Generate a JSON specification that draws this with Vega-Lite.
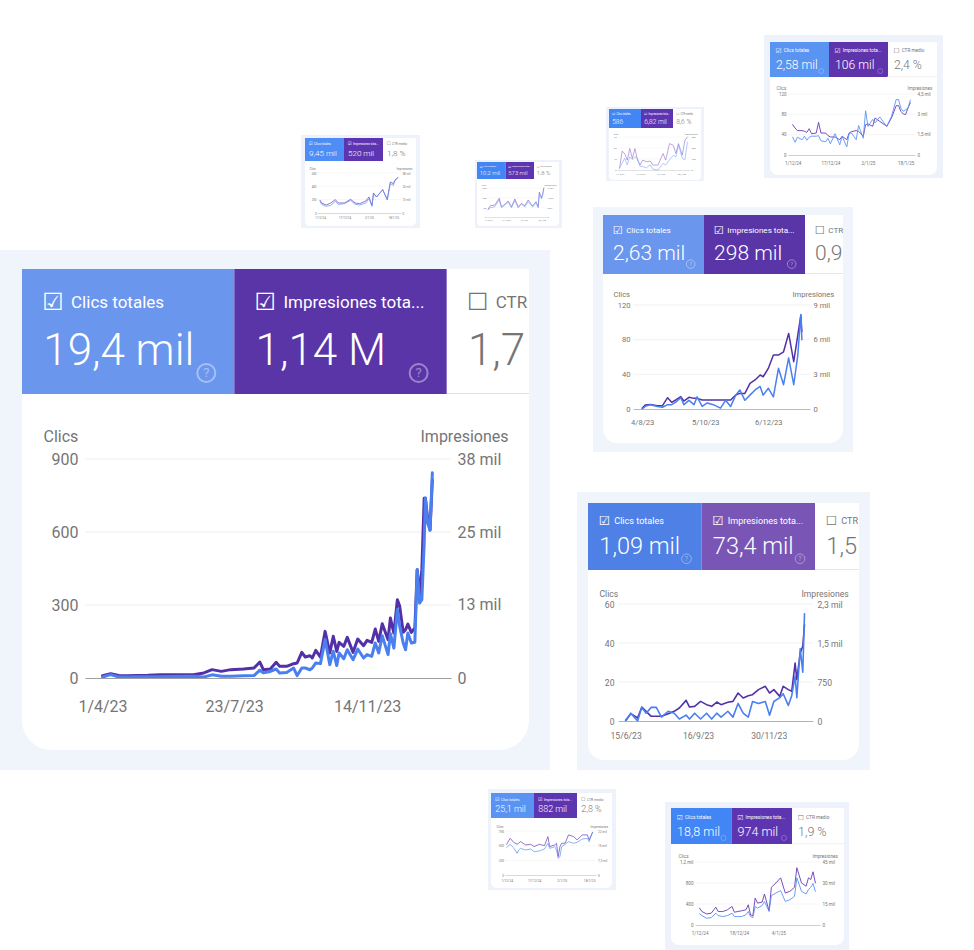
{"$schema":"https://vega.github.io/schema/vega-lite/v6.json","width":974,"height":950,"padding":0,"autosize":{"type":"none"},"background":"white",
"config":{"view":{"stroke":null},"axis":{"labelFont":"Roboto","titleFont":"Roboto","labelColor":"#757575","titleColor":"#757575","titleFontWeight":"normal","ticks":false,"domain":false,"grid":false,"labelOverlap":false,"labelFlush":false,"titleAngle":0,"titleAlign":"left","titleBaseline":"middle"},"axisX":{"domain":true,"domainColor":"#9e9e9e","labelBaseline":"top","title":null},"line":{"strokeJoin":"round","strokeCap":"round"}},
"datasets":{
"hA":[{"p":"A","m":"c","label":"Clics totales","value":"19,4 mil","b":"☑"},{"p":"A","m":"i","label":"Impresiones tota...","value":"1,14 M","b":"☑"},{"p":"A","m":"t","label":"CTR","value":"1,7","b":"☐"}],
"hB":[{"p":"B","m":"c","label":"Clics totales","value":"2,63 mil","b":"☑"},{"p":"B","m":"i","label":"Impresiones tota...","value":"298 mil","b":"☑"},{"p":"B","m":"t","label":"CTR","value":"0,9","b":"☐"}],
"hC":[{"p":"C","m":"c","label":"Clics totales","value":"1,09 mil","b":"☑"},{"p":"C","m":"i","label":"Impresiones tota...","value":"73,4 mil","b":"☑"},{"p":"C","m":"t","label":"CTR","value":"1,5","b":"☐"}],
"hD":[{"p":"D","m":"c","label":"Clics totales","value":"2,58 mil","b":"☑"},{"p":"D","m":"i","label":"Impresiones tota...","value":"106 mil","b":"☑"},{"p":"D","m":"t","label":"CTR medio","value":"2,4 %","b":"☐"}],
"hE":[{"p":"E","m":"c","label":"Clics totales","value":"9,45 mil","b":"☑"},{"p":"E","m":"i","label":"Impresiones tota...","value":"520 mil","b":"☑"},{"p":"E","m":"t","label":"CTR medio","value":"1,8 %","b":"☐"}],
"hF":[{"p":"F","m":"c","label":"Clics totales","value":"10,2 mil","b":"☑"},{"p":"F","m":"i","label":"Impresiones tota...","value":"573 mil","b":"☑"},{"p":"F","m":"t","label":"CTR medio","value":"1,8 %","b":"☐"}],
"hG":[{"p":"G","m":"c","label":"Clics totales","value":"586","b":"☑"},{"p":"G","m":"i","label":"Impresiones tota...","value":"6,82 mil","b":"☑"},{"p":"G","m":"t","label":"CTR medio","value":"8,6 %","b":"☐"}],
"hH":[{"p":"H","m":"c","label":"Clics totales","value":"25,1 mil","b":"☑"},{"p":"H","m":"i","label":"Impresiones tota...","value":"882 mil","b":"☑"},{"p":"H","m":"t","label":"CTR medio","value":"2,8 %","b":"☐"}],
"hI":[{"p":"I","m":"c","label":"Clics totales","value":"18,8 mil","b":"☑"},{"p":"I","m":"i","label":"Impresiones tota...","value":"974 mil","b":"☑"},{"p":"I","m":"t","label":"CTR medio","value":"1,9 %","b":"☐"}],
"A":[{"d":"2023-04-01","c":4,"i":400},{"d":"2023-04-08","c":14,"i":750},{"d":"2023-04-15","c":4,"i":420},{"d":"2023-04-22","c":4,"i":380},{"d":"2023-05-01","c":5,"i":420},{"d":"2023-05-10","c":5,"i":460},{"d":"2023-05-21","c":5,"i":580},{"d":"2023-06-01","c":6,"i":570},{"d":"2023-06-18","c":7,"i":580},{"d":"2023-06-27","c":4,"i":870},{"d":"2023-07-04","c":13,"i":1450},{"d":"2023-07-12","c":7,"i":1150},{"d":"2023-07-20","c":7,"i":1450},{"d":"2023-07-31","c":9,"i":1560},{"d":"2023-08-09","c":10,"i":1730},{"d":"2023-08-14","c":32,"i":2770},{"d":"2023-08-17","c":21,"i":1450},{"d":"2023-08-23","c":27,"i":1560},{"d":"2023-08-28","c":37,"i":2720},{"d":"2023-08-31","c":21,"i":2020},{"d":"2023-09-06","c":23,"i":2020},{"d":"2023-09-12","c":41,"i":2490},{"d":"2023-09-15","c":10,"i":2600},{"d":"2023-09-19","c":41,"i":4450},{"d":"2023-09-22","c":41,"i":3640},{"d":"2023-09-26","c":34,"i":3870},{"d":"2023-09-28","c":41,"i":3470},{"d":"2023-10-01","c":62,"i":4800},{"d":"2023-10-05","c":59,"i":3640},{"d":"2023-10-09","c":158,"i":8090},{"d":"2023-10-13","c":55,"i":4340},{"d":"2023-10-16","c":110,"i":7230},{"d":"2023-10-19","c":51,"i":4620},{"d":"2023-10-21","c":103,"i":6180},{"d":"2023-10-25","c":79,"i":5490},{"d":"2023-10-28","c":116,"i":7050},{"d":"2023-11-02","c":75,"i":4450},{"d":"2023-11-06","c":119,"i":6760},{"d":"2023-11-11","c":82,"i":5610},{"d":"2023-11-14","c":96,"i":6530},{"d":"2023-11-18","c":89,"i":6180},{"d":"2023-11-21","c":144,"i":8500},{"d":"2023-11-24","c":103,"i":6360},{"d":"2023-11-27","c":174,"i":9420},{"d":"2023-12-02","c":96,"i":6650},{"d":"2023-12-04","c":182,"i":10400},{"d":"2023-12-07","c":123,"i":7800},{"d":"2023-12-10","c":281,"i":13580},{"d":"2023-12-12","c":212,"i":12430},{"d":"2023-12-15","c":144,"i":7920},{"d":"2023-12-17","c":116,"i":8380},{"d":"2023-12-19","c":185,"i":9360},{"d":"2023-12-22","c":144,"i":7920},{"d":"2023-12-25","c":147,"i":8670},{"d":"2023-12-27","c":445,"i":18800},{"d":"2023-12-29","c":308,"i":14450},{"d":"2023-12-31","c":322,"i":18800},{"d":"2024-01-02","c":555,"i":31200},{"d":"2024-01-03","c":740,"i":31200},{"d":"2024-01-05","c":637,"i":27700},{"d":"2024-01-07","c":607,"i":25700},{"d":"2024-01-09","c":843,"i":34400}],
"B":[{"d":"2023-08-04","c":0,"i":60},{"d":"2023-08-07","c":3,"i":350},{"d":"2023-08-12","c":5,"i":400},{"d":"2023-08-19","c":3,"i":290},{"d":"2023-08-24","c":2,"i":290},{"d":"2023-08-29","c":5,"i":980},{"d":"2023-09-02","c":5,"i":580},{"d":"2023-09-06","c":8,"i":780},{"d":"2023-09-11","c":13,"i":1070},{"d":"2023-09-14","c":5,"i":690},{"d":"2023-09-19","c":10,"i":1010},{"d":"2023-09-24","c":5,"i":920},{"d":"2023-09-27","c":14,"i":920},{"d":"2023-10-02","c":3,"i":780},{"d":"2023-10-07","c":7,"i":780},{"d":"2023-10-13","c":5,"i":780},{"d":"2023-10-20","c":1,"i":780},{"d":"2023-10-25","c":10,"i":780},{"d":"2023-10-30","c":3,"i":780},{"d":"2023-11-04","c":16,"i":1210},{"d":"2023-11-08","c":22,"i":1350},{"d":"2023-11-13","c":10,"i":1350},{"d":"2023-11-18","c":16,"i":2220},{"d":"2023-11-23","c":22,"i":2510},{"d":"2023-11-28","c":26,"i":2940},{"d":"2023-12-01","c":16,"i":2790},{"d":"2023-12-06","c":24,"i":3510},{"d":"2023-12-11","c":14,"i":4670},{"d":"2023-12-16","c":47,"i":4670},{"d":"2023-12-21","c":28,"i":4950},{"d":"2023-12-26","c":59,"i":6540},{"d":"2023-12-31","c":28,"i":4090},{"d":"2024-01-04","c":62,"i":6390},{"d":"2024-01-07","c":109,"i":8120},{"d":"2024-01-08","c":80,"i":6680}],
"C":[{"d":"2023-06-15","c":0,"i":13},{"d":"2023-06-21","c":4,"i":141},{"d":"2023-06-29","c":0,"i":58},{"d":"2023-07-04","c":7,"i":269},{"d":"2023-07-09","c":4,"i":186},{"d":"2023-07-15","c":7,"i":90},{"d":"2023-07-21","c":7,"i":90},{"d":"2023-07-27","c":2,"i":90},{"d":"2023-08-04","c":5,"i":141},{"d":"2023-08-11","c":4,"i":186},{"d":"2023-08-17","c":1,"i":250},{"d":"2023-08-25","c":3,"i":397},{"d":"2023-08-29","c":1,"i":269},{"d":"2023-09-04","c":4,"i":282},{"d":"2023-09-11","c":1,"i":378},{"d":"2023-09-18","c":4,"i":314},{"d":"2023-09-24","c":1,"i":282},{"d":"2023-09-30","c":4,"i":365},{"d":"2023-10-05","c":2,"i":314},{"d":"2023-10-13","c":5,"i":359},{"d":"2023-10-19","c":2,"i":378},{"d":"2023-10-25","c":9,"i":538},{"d":"2023-10-31","c":4,"i":442},{"d":"2023-11-06","c":2,"i":487},{"d":"2023-11-11","c":10,"i":506},{"d":"2023-11-18","c":9,"i":603},{"d":"2023-11-26","c":10,"i":667},{"d":"2023-12-01","c":3,"i":538},{"d":"2023-12-06","c":10,"i":603},{"d":"2023-12-13","c":12,"i":474},{"d":"2023-12-17","c":14,"i":667},{"d":"2023-12-23","c":8,"i":603},{"d":"2023-12-27","c":13,"i":571},{"d":"2023-12-31","c":23,"i":1115},{"d":"2024-01-02","c":12,"i":795},{"d":"2024-01-06","c":37,"i":1308},{"d":"2024-01-09","c":25,"i":1436},{"d":"2024-01-11","c":55,"i":1852}],
"D":[{"d":"2024-12-01","c":35,"i":2240},{"d":"2024-12-02","c":25,"i":1990},{"d":"2024-12-03","c":35,"i":1800},{"d":"2024-12-05","c":30,"i":1800},{"d":"2024-12-06","c":37,"i":1750},{"d":"2024-12-07","c":29,"i":1670},{"d":"2024-12-08","c":35,"i":1940},{"d":"2024-12-09","c":37,"i":1570},{"d":"2024-12-11","c":37,"i":1620},{"d":"2024-12-12","c":38,"i":2410},{"d":"2024-12-13","c":28,"i":1620},{"d":"2024-12-15","c":26,"i":1620},{"d":"2024-12-16","c":33,"i":1430},{"d":"2024-12-17","c":22,"i":1330},{"d":"2024-12-19","c":42,"i":1330},{"d":"2024-12-21","c":20,"i":1130},{"d":"2024-12-22","c":37,"i":1380},{"d":"2024-12-24","c":16,"i":1130},{"d":"2024-12-25","c":43,"i":1620},{"d":"2024-12-26","c":43,"i":1720},{"d":"2024-12-28","c":30,"i":1800},{"d":"2024-12-29","c":58,"i":1750},{"d":"2024-12-31","c":33,"i":1380},{"d":"2025-01-01","c":87,"i":2240},{"d":"2025-01-02","c":56,"i":2290},{"d":"2025-01-04","c":70,"i":2120},{"d":"2025-01-05","c":63,"i":2730},{"d":"2025-01-07","c":75,"i":2480},{"d":"2025-01-10","c":56,"i":2120},{"d":"2025-01-12","c":76,"i":2730},{"d":"2025-01-14","c":109,"i":3640},{"d":"2025-01-15","c":109,"i":3640},{"d":"2025-01-16","c":92,"i":3220},{"d":"2025-01-17","c":86,"i":3030},{"d":"2025-01-18","c":89,"i":2980},{"d":"2025-01-19","c":92,"i":3470},{"d":"2025-01-20","c":108,"i":3840}],
"E":[{"d":"2024-12-01","c":180,"i":12050},{"d":"2024-12-02","c":130,"i":9510},{"d":"2024-12-05","c":100,"i":7610},{"d":"2024-12-08","c":115,"i":9510},{"d":"2024-12-11","c":175,"i":12680},{"d":"2024-12-13","c":130,"i":9510},{"d":"2024-12-17","c":140,"i":9510},{"d":"2024-12-21","c":190,"i":13000},{"d":"2024-12-24","c":130,"i":9510},{"d":"2024-12-27","c":120,"i":8880},{"d":"2024-12-31","c":150,"i":11410},{"d":"2025-01-02","c":215,"i":15220},{"d":"2025-01-04","c":100,"i":7290},{"d":"2025-01-05","c":290,"i":19020},{"d":"2025-01-07","c":240,"i":15220},{"d":"2025-01-11","c":350,"i":22190},{"d":"2025-01-14","c":200,"i":12680},{"d":"2025-01-16","c":440,"i":29480},{"d":"2025-01-18","c":415,"i":27900},{"d":"2025-01-19","c":490,"i":31070},{"d":"2025-01-21","c":530,"i":33600}],
"F":[{"d":"2024-12-01","c":74,"i":6490},{"d":"2024-12-03","c":95,"i":9310},{"d":"2024-12-07","c":106,"i":9870},{"d":"2024-12-11","c":177,"i":15510},{"d":"2024-12-13","c":95,"i":8460},{"d":"2024-12-16","c":124,"i":10430},{"d":"2024-12-19","c":152,"i":13250},{"d":"2024-12-22","c":95,"i":8460},{"d":"2024-12-25","c":169,"i":14950},{"d":"2024-12-28","c":95,"i":8460},{"d":"2024-12-31","c":131,"i":11280},{"d":"2025-01-03","c":106,"i":9310},{"d":"2025-01-06","c":159,"i":14100},{"d":"2025-01-10","c":102,"i":9020},{"d":"2025-01-13","c":148,"i":12690},{"d":"2025-01-15","c":95,"i":8460},{"d":"2025-01-16","c":237,"i":20590},{"d":"2025-01-18","c":187,"i":16070},{"d":"2025-01-19","c":222,"i":18890},{"d":"2025-01-20","c":293,"i":23970}],
"G":[{"d":"2024-12-01","c":3,"i":15},{"d":"2024-12-03","c":9,"i":171},{"d":"2024-12-05","c":16,"i":150},{"d":"2024-12-07","c":7,"i":90},{"d":"2024-12-09","c":18,"i":195},{"d":"2024-12-11","c":14,"i":105},{"d":"2024-12-13","c":18,"i":195},{"d":"2024-12-15","c":16,"i":90},{"d":"2024-12-17","c":5,"i":45},{"d":"2024-12-19","c":5,"i":90},{"d":"2024-12-22","c":3,"i":75},{"d":"2024-12-25","c":7,"i":81},{"d":"2024-12-27","c":1,"i":45},{"d":"2024-12-31","c":0,"i":45},{"d":"2025-01-04","c":9,"i":150},{"d":"2025-01-06","c":7,"i":90},{"d":"2025-01-09","c":14,"i":240},{"d":"2025-01-12","c":20,"i":225},{"d":"2025-01-14","c":18,"i":150},{"d":"2025-01-16","c":34,"i":240},{"d":"2025-01-19","c":16,"i":135},{"d":"2025-01-21","c":14,"i":270},{"d":"2025-01-23","c":38,"i":300}],
"H":[{"d":"2024-12-01","c":471,"i":15360},{"d":"2024-12-03","c":523,"i":18370},{"d":"2024-12-05","c":466,"i":16370},{"d":"2024-12-07","c":369,"i":15360},{"d":"2024-12-08","c":426,"i":15870},{"d":"2024-12-09","c":454,"i":16700},{"d":"2024-12-12","c":426,"i":15030},{"d":"2024-12-15","c":443,"i":15360},{"d":"2024-12-17","c":398,"i":14200},{"d":"2024-12-20","c":409,"i":15360},{"d":"2024-12-23","c":443,"i":14700},{"d":"2024-12-25","c":540,"i":19200},{"d":"2024-12-26","c":454,"i":14200},{"d":"2024-12-29","c":483,"i":15030},{"d":"2024-12-30","c":426,"i":15870},{"d":"2024-12-31","c":284,"i":9190},{"d":"2025-01-01","c":312,"i":14200},{"d":"2025-01-02","c":483,"i":15870},{"d":"2025-01-04","c":523,"i":15870},{"d":"2025-01-06","c":568,"i":20040},{"d":"2025-01-09","c":540,"i":19200},{"d":"2025-01-11","c":557,"i":17540},{"d":"2025-01-14","c":613,"i":20040},{"d":"2025-01-17","c":625,"i":20040},{"d":"2025-01-18","c":568,"i":17540},{"d":"2025-01-20","c":727,"i":21380}],
"I":[{"d":"2024-12-01","c":212,"i":12030},{"d":"2024-12-02","c":180,"i":9620},{"d":"2024-12-04","c":128,"i":7940},{"d":"2024-12-06","c":141,"i":8420},{"d":"2024-12-08","c":225,"i":12750},{"d":"2024-12-09","c":180,"i":9620},{"d":"2024-12-11","c":160,"i":9620},{"d":"2024-12-13","c":180,"i":10830},{"d":"2024-12-15","c":225,"i":13230},{"d":"2024-12-16","c":160,"i":9140},{"d":"2024-12-19","c":160,"i":10100},{"d":"2024-12-21","c":193,"i":10830},{"d":"2024-12-22","c":257,"i":14440},{"d":"2024-12-23","c":160,"i":7220},{"d":"2024-12-24","c":141,"i":6740},{"d":"2024-12-25","c":353,"i":19250},{"d":"2024-12-26","c":321,"i":15640},{"d":"2024-12-28","c":372,"i":16360},{"d":"2024-12-29","c":449,"i":22140},{"d":"2024-12-31","c":257,"i":10100},{"d":"2025-01-01","c":559,"i":26950},{"d":"2025-01-03","c":610,"i":30080},{"d":"2025-01-05","c":655,"i":33680},{"d":"2025-01-07","c":449,"i":22860},{"d":"2025-01-09","c":482,"i":24060},{"d":"2025-01-11","c":546,"i":26950},{"d":"2025-01-12","c":899,"i":40900},{"d":"2025-01-14","c":642,"i":30080},{"d":"2025-01-16","c":591,"i":27670},{"d":"2025-01-17","c":674,"i":33680},{"d":"2025-01-18","c":719,"i":32480},{"d":"2025-01-19","c":790,"i":38010},{"d":"2025-01-20","c":642,"i":30080}]
},
"layer":[
{"data":{"values":[{"p":"A"}]},"mark":{"type":"rect","color":"#f0f4fb"},"encoding":{"x":{"field":"p","type":"nominal","axis":null,"scale":{"type":"band","padding":0,"range":[0,550]}},"y":{"field":"p","type":"nominal","axis":null,"scale":{"type":"band","padding":0,"range":[250,770]}}}},
{"data":{"values":[{"p":"A"}]},"mark":{"type":"rect","color":"#ffffff","cornerRadiusBottomLeft":30,"cornerRadiusBottomRight":30},"encoding":{"x":{"field":"p","type":"nominal","axis":null,"scale":{"type":"band","padding":0,"range":[22,529]}},"y":{"field":"p","type":"nominal","axis":null,"scale":{"type":"band","padding":0,"range":[269,750]}}}},
{"data":{"name":"hA"},"layer":[
{"transform":[{"filter":"datum.m!='t'"}],"mark":{"type":"rect"},"encoding":{"x":{"field":"m","type":"nominal","axis":null,"scale":{"type":"band","padding":0,"domain":["c","i","t"],"range":[22,659]}},"y":{"field":"p","type":"nominal","axis":null,"scale":{"type":"band","padding":0,"range":[269,394]}},"fill":{"field":"m","type":"nominal","legend":null,"scale":{"domain":["c","i"],"range":["#6b96ee","#5a35a8"]}}}},
{"mark":{"type":"text","font":"DejaVu Sans","fontSize":24,"align":"center","baseline":"middle"},"encoding":{"x":{"field":"m","type":"nominal","axis":null,"bandPosition":0.146,"scale":{"type":"band"}},"y":{"field":"p","type":"nominal","axis":null,"bandPosition":0.27,"scale":{"type":"band"}},"text":{"field":"b"},"color":{"field":"m","type":"nominal","legend":null,"scale":{"domain":["c","i","t"],"range":["#ffffff","#ffffff","#757575"]}}}},
{"mark":{"type":"text","font":"Roboto","fontSize":17,"align":"left","baseline":"middle"},"encoding":{"x":{"field":"m","type":"nominal","axis":null,"bandPosition":0.231,"scale":{"type":"band"}},"y":{"field":"p","type":"nominal","axis":null,"bandPosition":0.27,"scale":{"type":"band"}},"text":{"field":"label"},"color":{"field":"m","type":"nominal","legend":null}}},
{"mark":{"type":"text","font":"Roboto","fontSize":44,"fontWeight":300,"align":"left","baseline":"alphabetic"},"encoding":{"x":{"field":"m","type":"nominal","axis":null,"bandPosition":0.1,"scale":{"type":"band"}},"y":{"field":"p","type":"nominal","axis":null,"bandPosition":0.768,"scale":{"type":"band"}},"text":{"field":"value"},"color":{"field":"m","type":"nominal","legend":null}}},
{"transform":[{"filter":"datum.m!='t'"}],"mark":{"type":"point","shape":"circle","filled":false,"size":324,"strokeWidth":2,"color":"#ffffff","opacity":0.4},"encoding":{"x":{"field":"m","type":"nominal","axis":null,"bandPosition":0.868,"scale":{"type":"band"}},"y":{"field":"p","type":"nominal","axis":null,"bandPosition":0.832,"scale":{"type":"band"}}}},
{"transform":[{"filter":"datum.m!='t'"}],"mark":{"type":"text","text":"?","font":"Roboto","fontSize":13,"align":"center","baseline":"middle","color":"#ffffff","opacity":0.4},"encoding":{"x":{"field":"m","type":"nominal","axis":null,"bandPosition":0.868,"scale":{"type":"band"}},"y":{"field":"p","type":"nominal","axis":null,"bandPosition":0.832,"scale":{"type":"band"}}}}
]},
{"data":{"values":[{"g":0}]},"mark":{"type":"rule","color":"#e0e0e0"},"encoding":{"x":{"datum":0,"type":"quantitative","axis":null,"scale":{"domain":[0,1],"range":[447,529]}},"x2":{"datum":1},"y":{"field":"g","type":"quantitative","axis":null,"scale":{"domain":[0,1],"range":[393.5,393]}}}},
{"data":{"values":[{"g":300},{"g":600},{"g":900}]},"mark":{"type":"rule","color":"#eeeeee"},"encoding":{"x":{"datum":0,"type":"quantitative","axis":null,"scale":{"domain":[0,1],"range":[85,451]}},"x2":{"datum":1},"y":{"field":"g","type":"quantitative","axis":null,"scale":{"domain":[0,900],"range":[678,459]}}}},
{"data":{"name":"A"},"encoding":{"x":{"field":"d","type":"temporal","scale":{"type":"utc","domain":["2023-03-17","2024-01-25"],"range":[85,451]},"axis":{"zindex":1,"values":["2023-04-01","2023-07-23","2023-11-14"],"format":"%-d/%-m/%y","orient":"bottom","offset":-272,"labelFontSize":16,"labelPadding":20}}},"layer":[
{"mark":{"type":"line","color":"#5230a8","strokeWidth":3},"encoding":{"y":{"field":"i","type":"quantitative","scale":{"domain":[0,38000],"range":[678,459]},"axis":{"zindex":1,"orient":"right","offset":-523,"values":[0,12667,25333,38000],"labelExpr":"['0','13 mil','25 mil','38 mil'][round(datum.index*3)]","labelFontSize":16,"labelPadding":6,"title":"Impresiones","titleFontSize":16,"titleX":-31,"titleY":436}}}},
{"mark":{"type":"line","color":"#4a7ff0","strokeWidth":3},"encoding":{"y":{"field":"c","type":"quantitative","scale":{"domain":[0,900],"range":[678,459]},"axis":{"zindex":1,"orient":"left","offset":-85,"values":[0,300,600,900],"labelFontSize":16,"labelPadding":7,"title":"Clics","titleFontSize":16,"titleX":-42,"titleY":436}}}}
],"resolve":{"scale":{"y":"independent"},"axis":{"y":"independent"}}},

{"data":{"values":[{"p":"B"}]},"mark":{"type":"rect","color":"#f0f4fb"},"encoding":{"x":{"field":"p","type":"nominal","axis":null,"scale":{"type":"band","padding":0,"range":[593,853]}},"y":{"field":"p","type":"nominal","axis":null,"scale":{"type":"band","padding":0,"range":[207,452]}}}},
{"data":{"values":[{"p":"B"}]},"mark":{"type":"rect","color":"#ffffff","cornerRadiusBottomLeft":14,"cornerRadiusBottomRight":14},"encoding":{"x":{"field":"p","type":"nominal","axis":null,"scale":{"type":"band","padding":0,"range":[603,843]}},"y":{"field":"p","type":"nominal","axis":null,"scale":{"type":"band","padding":0,"range":[215,443]}}}},
{"data":{"name":"hB"},"layer":[
{"transform":[{"filter":"datum.m!='t'"}],"mark":{"type":"rect"},"encoding":{"x":{"field":"m","type":"nominal","axis":null,"scale":{"type":"band","padding":0,"domain":["c","i","t"],"range":[603,906]}},"y":{"field":"p","type":"nominal","axis":null,"scale":{"type":"band","padding":0,"range":[215,274]}},"fill":{"field":"m","type":"nominal","legend":null,"scale":{"domain":["c","i"],"range":["#6b96ee","#5a35a8"]}}}},
{"mark":{"type":"text","font":"DejaVu Sans","fontSize":11.4,"align":"center","baseline":"middle"},"encoding":{"x":{"field":"m","type":"nominal","axis":null,"bandPosition":0.146,"scale":{"type":"band"}},"y":{"field":"p","type":"nominal","axis":null,"bandPosition":0.27,"scale":{"type":"band"}},"text":{"field":"b"},"color":{"field":"m","type":"nominal","legend":null}}},
{"mark":{"type":"text","font":"Roboto","fontSize":8.1,"align":"left","baseline":"middle"},"encoding":{"x":{"field":"m","type":"nominal","axis":null,"bandPosition":0.231,"scale":{"type":"band"}},"y":{"field":"p","type":"nominal","axis":null,"bandPosition":0.27,"scale":{"type":"band"}},"text":{"field":"label"},"color":{"field":"m","type":"nominal","legend":null}}},
{"mark":{"type":"text","font":"Roboto","fontSize":21,"fontWeight":300,"align":"left","baseline":"alphabetic"},"encoding":{"x":{"field":"m","type":"nominal","axis":null,"bandPosition":0.1,"scale":{"type":"band"}},"y":{"field":"p","type":"nominal","axis":null,"bandPosition":0.768,"scale":{"type":"band"}},"text":{"field":"value"},"color":{"field":"m","type":"nominal","legend":null}}},
{"transform":[{"filter":"datum.m!='t'"}],"mark":{"type":"point","shape":"circle","filled":false,"size":74,"strokeWidth":1,"color":"#ffffff","opacity":0.4},"encoding":{"x":{"field":"m","type":"nominal","axis":null,"bandPosition":0.868,"scale":{"type":"band"}},"y":{"field":"p","type":"nominal","axis":null,"bandPosition":0.832,"scale":{"type":"band"}}}},
{"transform":[{"filter":"datum.m!='t'"}],"mark":{"type":"text","text":"?","font":"Roboto","fontSize":6.2,"align":"center","baseline":"middle","color":"#ffffff","opacity":0.4},"encoding":{"x":{"field":"m","type":"nominal","axis":null,"bandPosition":0.868,"scale":{"type":"band"}},"y":{"field":"p","type":"nominal","axis":null,"bandPosition":0.832,"scale":{"type":"band"}}}}
]},
{"data":{"values":[{"g":0}]},"mark":{"type":"rule","color":"#e6e6e6"},"encoding":{"x":{"datum":0,"type":"quantitative","axis":null,"scale":{"domain":[0,1],"range":[805,843]}},"x2":{"datum":1},"y":{"field":"g","type":"quantitative","axis":null,"scale":{"domain":[0,1],"range":[273.5,273]}}}},
{"data":{"values":[{"g":40},{"g":80},{"g":120}]},"mark":{"type":"rule","color":"#eeeeee","strokeWidth":0.8},"encoding":{"x":{"datum":0,"type":"quantitative","axis":null,"scale":{"domain":[0,1],"range":[633,810]}},"x2":{"datum":1},"y":{"field":"g","type":"quantitative","axis":null,"scale":{"domain":[0,120],"range":[409,305]}}}},
{"data":{"name":"B"},"encoding":{"x":{"field":"d","type":"temporal","scale":{"type":"utc","domain":["2023-07-26","2024-01-16"],"range":[633,810]},"axis":{"zindex":1,"values":["2023-08-04","2023-10-05","2023-12-06"],"format":"%-d/%-m/%y","orient":"bottom","offset":-541,"labelFontSize":7.6,"labelPadding":9,"domainWidth":0.7}}},"layer":[
{"mark":{"type":"line","color":"#5230a8","strokeWidth":1.5},"encoding":{"y":{"field":"i","type":"quantitative","scale":{"domain":[0,9000],"range":[409,305]},"axis":{"zindex":1,"orient":"right","offset":-164,"values":[0,3000,6000,9000],"labelExpr":"['0','3 mil','6 mil','9 mil'][round(datum.index*3)]","labelFontSize":7.6,"labelPadding":3,"title":"Impresiones","titleFontSize":7.6,"titleX":-18,"titleY":294}}}},
{"mark":{"type":"line","color":"#4a7ff0","strokeWidth":1.5},"encoding":{"y":{"field":"c","type":"quantitative","scale":{"domain":[0,120],"range":[409,305]},"axis":{"zindex":1,"orient":"left","offset":-633,"values":[0,40,80,120],"labelFontSize":7.6,"labelPadding":3,"title":"Clics","titleFontSize":7.6,"titleX":-20,"titleY":294}}}}
],"resolve":{"scale":{"y":"independent"},"axis":{"y":"independent"}}},

{"data":{"values":[{"p":"C"}]},"mark":{"type":"rect","color":"#f0f4fb"},"encoding":{"x":{"field":"p","type":"nominal","axis":null,"scale":{"type":"band","padding":0,"range":[577,870]}},"y":{"field":"p","type":"nominal","axis":null,"scale":{"type":"band","padding":0,"range":[492,770]}}}},
{"data":{"values":[{"p":"C"}]},"mark":{"type":"rect","color":"#ffffff","cornerRadiusBottomLeft":16,"cornerRadiusBottomRight":16},"encoding":{"x":{"field":"p","type":"nominal","axis":null,"scale":{"type":"band","padding":0,"range":[588,859]}},"y":{"field":"p","type":"nominal","axis":null,"scale":{"type":"band","padding":0,"range":[503,760]}}}},
{"data":{"name":"hC"},"layer":[
{"transform":[{"filter":"datum.m!='t'"}],"mark":{"type":"rect"},"encoding":{"x":{"field":"m","type":"nominal","axis":null,"scale":{"type":"band","padding":0,"domain":["c","i","t"],"range":[588,928.5]}},"y":{"field":"p","type":"nominal","axis":null,"scale":{"type":"band","padding":0,"range":[503,570]}},"fill":{"field":"m","type":"nominal","legend":null,"scale":{"domain":["c","i"],"range":["#4f80e6","#7956b6"]}}}},
{"mark":{"type":"text","font":"DejaVu Sans","fontSize":12.8,"align":"center","baseline":"middle"},"encoding":{"x":{"field":"m","type":"nominal","axis":null,"bandPosition":0.146,"scale":{"type":"band"}},"y":{"field":"p","type":"nominal","axis":null,"bandPosition":0.27,"scale":{"type":"band"}},"text":{"field":"b"},"color":{"field":"m","type":"nominal","legend":null}}},
{"mark":{"type":"text","font":"Roboto","fontSize":9.1,"align":"left","baseline":"middle"},"encoding":{"x":{"field":"m","type":"nominal","axis":null,"bandPosition":0.231,"scale":{"type":"band"}},"y":{"field":"p","type":"nominal","axis":null,"bandPosition":0.27,"scale":{"type":"band"}},"text":{"field":"label"},"color":{"field":"m","type":"nominal","legend":null}}},
{"mark":{"type":"text","font":"Roboto","fontSize":23.5,"fontWeight":300,"align":"left","baseline":"alphabetic"},"encoding":{"x":{"field":"m","type":"nominal","axis":null,"bandPosition":0.1,"scale":{"type":"band"}},"y":{"field":"p","type":"nominal","axis":null,"bandPosition":0.768,"scale":{"type":"band"}},"text":{"field":"value"},"color":{"field":"m","type":"nominal","legend":null}}},
{"transform":[{"filter":"datum.m!='t'"}],"mark":{"type":"point","shape":"circle","filled":false,"size":93,"strokeWidth":1,"color":"#ffffff","opacity":0.4},"encoding":{"x":{"field":"m","type":"nominal","axis":null,"bandPosition":0.868,"scale":{"type":"band"}},"y":{"field":"p","type":"nominal","axis":null,"bandPosition":0.832,"scale":{"type":"band"}}}},
{"transform":[{"filter":"datum.m!='t'"}],"mark":{"type":"text","text":"?","font":"Roboto","fontSize":7,"align":"center","baseline":"middle","color":"#ffffff","opacity":0.4},"encoding":{"x":{"field":"m","type":"nominal","axis":null,"bandPosition":0.868,"scale":{"type":"band"}},"y":{"field":"p","type":"nominal","axis":null,"bandPosition":0.832,"scale":{"type":"band"}}}}
]},
{"data":{"values":[{"g":0}]},"mark":{"type":"rule","color":"#e6e6e6"},"encoding":{"x":{"datum":0,"type":"quantitative","axis":null,"scale":{"domain":[0,1],"range":[815,859]}},"x2":{"datum":1},"y":{"field":"g","type":"quantitative","axis":null,"scale":{"domain":[0,1],"range":[569.5,569]}}}},
{"data":{"values":[{"g":20},{"g":40},{"g":60}]},"mark":{"type":"rule","color":"#eeeeee","strokeWidth":0.8},"encoding":{"x":{"datum":0,"type":"quantitative","axis":null,"scale":{"domain":[0,1],"range":[618,813]}},"x2":{"datum":1},"y":{"field":"g","type":"quantitative","axis":null,"scale":{"domain":[0,60],"range":[721,604]}}}},
{"data":{"name":"C"},"encoding":{"x":{"field":"d","type":"temporal","scale":{"type":"utc","domain":["2023-06-06","2024-01-21"],"range":[618,813]},"axis":{"zindex":1,"values":["2023-06-15","2023-09-08","2023-11-30"],"labelExpr":"['15/6/23','16/9/23','30/11/23'][round(datum.index*2)]","orient":"bottom","offset":-229,"labelFontSize":8.6,"labelPadding":10,"domainWidth":0.8}}},"layer":[
{"mark":{"type":"line","color":"#5230a8","strokeWidth":1.6},"encoding":{"y":{"field":"i","type":"quantitative","scale":{"domain":[0,2250],"range":[721,604]},"axis":{"zindex":1,"orient":"right","offset":-161,"values":[0,750,1500,2250],"labelExpr":"['0','750','1,5 mil','2,3 mil'][round(datum.index*3)]","labelFontSize":8.6,"labelPadding":4,"title":"Impresiones","titleFontSize":8.6,"titleX":-12,"titleY":593}}}},
{"mark":{"type":"line","color":"#4a7ff0","strokeWidth":1.6},"encoding":{"y":{"field":"c","type":"quantitative","scale":{"domain":[0,60],"range":[721,604]},"axis":{"zindex":1,"orient":"left","offset":-618,"values":[0,20,40,60],"labelFontSize":8.6,"labelPadding":4,"title":"Clics","titleFontSize":8.6,"titleX":-19,"titleY":593}}}}
],"resolve":{"scale":{"y":"independent"},"axis":{"y":"independent"}}},

{"data":{"values":[{"p":"D"}]},"mark":{"type":"rect","color":"#eef2fa"},"encoding":{"x":{"field":"p","type":"nominal","axis":null,"scale":{"type":"band","padding":0,"range":[764,943]}},"y":{"field":"p","type":"nominal","axis":null,"scale":{"type":"band","padding":0,"range":[35,178]}}}},
{"data":{"values":[{"p":"D"}]},"mark":{"type":"rect","color":"#ffffff","cornerRadiusBottomLeft":8,"cornerRadiusBottomRight":8},"encoding":{"x":{"field":"p","type":"nominal","axis":null,"scale":{"type":"band","padding":0,"range":[770,937]}},"y":{"field":"p","type":"nominal","axis":null,"scale":{"type":"band","padding":0,"range":[42,175]}}}},
{"data":{"name":"hD"},"layer":[
{"transform":[{"filter":"datum.m!='t'"}],"mark":{"type":"rect"},"encoding":{"x":{"field":"m","type":"nominal","axis":null,"scale":{"type":"band","padding":0,"domain":["c","i","t"],"range":[770,947]}},"y":{"field":"p","type":"nominal","axis":null,"scale":{"type":"band","padding":0,"range":[42,77]}},"fill":{"field":"m","type":"nominal","legend":null,"scale":{"domain":["c","i"],"range":["#5a94f3","#5f33ab"]}}}},
{"mark":{"type":"text","font":"DejaVu Sans","fontSize":6.7,"align":"center","baseline":"middle"},"encoding":{"x":{"field":"m","type":"nominal","axis":null,"bandPosition":0.146,"scale":{"type":"band"}},"y":{"field":"p","type":"nominal","axis":null,"bandPosition":0.27,"scale":{"type":"band"}},"text":{"field":"b"},"color":{"field":"m","type":"nominal","legend":null}}},
{"mark":{"type":"text","font":"Roboto","fontSize":4.7,"align":"left","baseline":"middle"},"encoding":{"x":{"field":"m","type":"nominal","axis":null,"bandPosition":0.231,"scale":{"type":"band"}},"y":{"field":"p","type":"nominal","axis":null,"bandPosition":0.27,"scale":{"type":"band"}},"text":{"field":"label"},"color":{"field":"m","type":"nominal","legend":null}}},
{"mark":{"type":"text","font":"Roboto","fontSize":12.2,"fontWeight":300,"align":"left","baseline":"alphabetic"},"encoding":{"x":{"field":"m","type":"nominal","axis":null,"bandPosition":0.1,"scale":{"type":"band"}},"y":{"field":"p","type":"nominal","axis":null,"bandPosition":0.768,"scale":{"type":"band"}},"text":{"field":"value"},"color":{"field":"m","type":"nominal","legend":null}}},
{"transform":[{"filter":"datum.m!='t'"}],"mark":{"type":"point","shape":"circle","filled":false,"size":25,"strokeWidth":0.6,"color":"#ffffff","opacity":0.4},"encoding":{"x":{"field":"m","type":"nominal","axis":null,"bandPosition":0.868,"scale":{"type":"band"}},"y":{"field":"p","type":"nominal","axis":null,"bandPosition":0.832,"scale":{"type":"band"}}}}
]},
{"data":{"values":[{"g":0}]},"mark":{"type":"rule","color":"#e6e6e6","strokeWidth":0.6},"encoding":{"x":{"datum":0,"type":"quantitative","axis":null,"scale":{"domain":[0,1],"range":[887,937]}},"x2":{"datum":1},"y":{"field":"g","type":"quantitative","axis":null,"scale":{"domain":[0,1],"range":[76.7,76.4]}}}},
{"data":{"values":[{"g":40},{"g":80},{"g":120}]},"mark":{"type":"rule","color":"#eeeeee","strokeWidth":0.6},"encoding":{"x":{"datum":0,"type":"quantitative","axis":null,"scale":{"domain":[0,1],"range":[788,915]}},"x2":{"datum":1},"y":{"field":"g","type":"quantitative","axis":null,"scale":{"domain":[0,120],"range":[155,94]}}}},
{"data":{"name":"D"},"encoding":{"x":{"field":"d","type":"temporal","scale":{"type":"utc","domain":["2024-11-29","2025-01-22"],"range":[788,915]},"axis":{"zindex":1,"values":["2024-12-01","2024-12-17","2025-01-02","2025-01-18"],"format":"%-d/%-m/%y","orient":"bottom","offset":-795,"labelFontSize":4.5,"labelPadding":5,"domainWidth":0.5}}},"layer":[
{"mark":{"type":"line","color":"#6a3ab5","strokeWidth":0.9},"encoding":{"y":{"field":"i","type":"quantitative","scale":{"domain":[0,4500],"range":[155,94]},"axis":{"zindex":1,"orient":"right","offset":-59,"values":[0,1500,3000,4500],"labelExpr":"['0','1,5 mil','3 mil','4,5 mil'][round(datum.index*3)]","labelFontSize":4.5,"labelPadding":2,"title":"Impresiones","titleFontSize":4.5,"titleX":-8,"titleY":88}}}},
{"mark":{"type":"line","color":"#5a94f3","strokeWidth":0.9},"encoding":{"y":{"field":"c","type":"quantitative","scale":{"domain":[0,120],"range":[155,94]},"axis":{"zindex":1,"orient":"left","offset":-788,"values":[0,40,80,120],"labelFontSize":4.5,"labelPadding":2,"title":"Clics","titleFontSize":4.5,"titleX":-12,"titleY":88}}}}
],"resolve":{"scale":{"y":"independent"},"axis":{"y":"independent"}}},

{"data":{"values":[{"p":"E"}]},"mark":{"type":"rect","color":"#eef2fa"},"encoding":{"x":{"field":"p","type":"nominal","axis":null,"scale":{"type":"band","padding":0,"range":[301,420]}},"y":{"field":"p","type":"nominal","axis":null,"scale":{"type":"band","padding":0,"range":[135,228]}}}},
{"data":{"values":[{"p":"E"}]},"mark":{"type":"rect","color":"#ffffff","cornerRadiusBottomLeft":5,"cornerRadiusBottomRight":5},"encoding":{"x":{"field":"p","type":"nominal","axis":null,"scale":{"type":"band","padding":0,"range":[305,416]}},"y":{"field":"p","type":"nominal","axis":null,"scale":{"type":"band","padding":0,"range":[138,226]}}}},
{"data":{"name":"hE"},"layer":[
{"transform":[{"filter":"datum.m!='t'"}],"mark":{"type":"rect"},"encoding":{"x":{"field":"m","type":"nominal","axis":null,"scale":{"type":"band","padding":0,"domain":["c","i","t"],"range":[305,422]}},"y":{"field":"p","type":"nominal","axis":null,"scale":{"type":"band","padding":0,"range":[138,161]}},"fill":{"field":"m","type":"nominal","legend":null,"scale":{"domain":["c","i"],"range":["#4d8df5","#5e35b1"]}}}},
{"mark":{"type":"text","font":"DejaVu Sans","fontSize":4.4,"align":"center","baseline":"middle"},"encoding":{"x":{"field":"m","type":"nominal","axis":null,"bandPosition":0.146,"scale":{"type":"band"}},"y":{"field":"p","type":"nominal","axis":null,"bandPosition":0.27,"scale":{"type":"band"}},"text":{"field":"b"},"color":{"field":"m","type":"nominal","legend":null}}},
{"mark":{"type":"text","font":"Roboto","fontSize":3.1,"align":"left","baseline":"middle"},"encoding":{"x":{"field":"m","type":"nominal","axis":null,"bandPosition":0.231,"scale":{"type":"band"}},"y":{"field":"p","type":"nominal","axis":null,"bandPosition":0.27,"scale":{"type":"band"}},"text":{"field":"label"},"color":{"field":"m","type":"nominal","legend":null}}},
{"mark":{"type":"text","font":"Roboto","fontSize":8.1,"fontWeight":300,"align":"left","baseline":"alphabetic"},"encoding":{"x":{"field":"m","type":"nominal","axis":null,"bandPosition":0.1,"scale":{"type":"band"}},"y":{"field":"p","type":"nominal","axis":null,"bandPosition":0.768,"scale":{"type":"band"}},"text":{"field":"value"},"color":{"field":"m","type":"nominal","legend":null}}}
]},
{"data":{"values":[{"g":200},{"g":400},{"g":600}]},"mark":{"type":"rule","color":"#eeeeee","strokeWidth":0.5},"encoding":{"x":{"datum":0,"type":"quantitative","axis":null,"scale":{"domain":[0,1],"range":[317,401]}},"x2":{"datum":1},"y":{"field":"g","type":"quantitative","axis":null,"scale":{"domain":[0,600],"range":[213,173]}}}},
{"data":{"name":"E"},"encoding":{"x":{"field":"d","type":"temporal","scale":{"type":"utc","domain":["2024-11-29","2025-01-23"],"range":[317,401]},"axis":{"zindex":1,"values":["2024-12-01","2024-12-17","2025-01-02","2025-01-18"],"format":"%-d/%-m/%y","orient":"bottom","offset":-737,"labelFontSize":2.9,"labelPadding":3,"domainWidth":0.4}}},"layer":[
{"mark":{"type":"line","color":"#6a3ab5","strokeWidth":0.7},"encoding":{"y":{"field":"i","type":"quantitative","scale":{"domain":[0,38000],"range":[213,173]},"axis":{"zindex":1,"orient":"right","offset":-573,"values":[0,12667,25333,38000],"labelExpr":"['0','13 mil','25 mil','38 mil'][round(datum.index*3)]","labelFontSize":2.9,"labelPadding":1,"title":"Impresiones","titleFontSize":2.9,"titleX":-5,"titleY":168}}}},
{"mark":{"type":"line","color":"#5a94f3","strokeWidth":0.7},"encoding":{"y":{"field":"c","type":"quantitative","scale":{"domain":[0,600],"range":[213,173]},"axis":{"zindex":1,"orient":"left","offset":-317,"values":[0,200,400,600],"labelFontSize":2.9,"labelPadding":1,"title":"Clics","titleFontSize":2.9,"titleX":-8,"titleY":168}}}}
],"resolve":{"scale":{"y":"independent"},"axis":{"y":"independent"}}},

{"data":{"values":[{"p":"F"}]},"mark":{"type":"rect","color":"#eef2fa"},"encoding":{"x":{"field":"p","type":"nominal","axis":null,"scale":{"type":"band","padding":0,"range":[475,562]}},"y":{"field":"p","type":"nominal","axis":null,"scale":{"type":"band","padding":0,"range":[160,228]}}}},
{"data":{"values":[{"p":"F"}]},"mark":{"type":"rect","color":"#ffffff","cornerRadiusBottomLeft":4,"cornerRadiusBottomRight":4},"encoding":{"x":{"field":"p","type":"nominal","axis":null,"scale":{"type":"band","padding":0,"range":[477,559]}},"y":{"field":"p","type":"nominal","axis":null,"scale":{"type":"band","padding":0,"range":[162,226]}}}},
{"data":{"name":"hF"},"layer":[
{"transform":[{"filter":"datum.m!='t'"}],"mark":{"type":"rect"},"encoding":{"x":{"field":"m","type":"nominal","axis":null,"scale":{"type":"band","padding":0,"domain":["c","i","t"],"range":[477,562.5]}},"y":{"field":"p","type":"nominal","axis":null,"scale":{"type":"band","padding":0,"range":[162,179]}},"fill":{"field":"m","type":"nominal","legend":null,"scale":{"domain":["c","i"],"range":["#4285f4","#5e35b1"]}}}},
{"mark":{"type":"text","font":"DejaVu Sans","fontSize":3.2,"align":"center","baseline":"middle"},"encoding":{"x":{"field":"m","type":"nominal","axis":null,"bandPosition":0.146,"scale":{"type":"band"}},"y":{"field":"p","type":"nominal","axis":null,"bandPosition":0.27,"scale":{"type":"band"}},"text":{"field":"b"},"color":{"field":"m","type":"nominal","legend":null}}},
{"mark":{"type":"text","font":"Roboto","fontSize":2.3,"align":"left","baseline":"middle"},"encoding":{"x":{"field":"m","type":"nominal","axis":null,"bandPosition":0.231,"scale":{"type":"band"}},"y":{"field":"p","type":"nominal","axis":null,"bandPosition":0.27,"scale":{"type":"band"}},"text":{"field":"label"},"color":{"field":"m","type":"nominal","legend":null}}},
{"mark":{"type":"text","font":"Roboto","fontSize":5.9,"fontWeight":300,"align":"left","baseline":"alphabetic"},"encoding":{"x":{"field":"m","type":"nominal","axis":null,"bandPosition":0.1,"scale":{"type":"band"}},"y":{"field":"p","type":"nominal","axis":null,"bandPosition":0.768,"scale":{"type":"band"}},"text":{"field":"value"},"color":{"field":"m","type":"nominal","legend":null}}}
]},
{"data":{"values":[{"g":100},{"g":200},{"g":300}]},"mark":{"type":"rule","color":"#eeeeee","strokeWidth":0.4},"encoding":{"x":{"datum":0,"type":"quantitative","axis":null,"scale":{"domain":[0,1],"range":[487,546]}},"x2":{"datum":1},"y":{"field":"g","type":"quantitative","axis":null,"scale":{"domain":[0,300],"range":[217,188]}}}},
{"data":{"name":"F"},"encoding":{"x":{"field":"d","type":"temporal","scale":{"type":"utc","domain":["2024-11-30","2025-01-22"],"range":[487,546]},"axis":{"zindex":1,"values":["2024-12-01","2024-12-17","2025-01-02","2025-01-18"],"format":"%-d/%-m/%y","orient":"bottom","offset":-733,"labelFontSize":2.2,"labelPadding":2,"domainWidth":0.3}}},"layer":[
{"mark":{"type":"line","color":"#6a3ab5","strokeWidth":0.5},"encoding":{"y":{"field":"i","type":"quantitative","scale":{"domain":[0,24000],"range":[217,188]},"axis":{"zindex":1,"orient":"right","offset":-428,"values":[0,8000,16000,24000],"labelExpr":"['0','8 mil','16 mil','24 mil'][round(datum.index*3)]","labelFontSize":2.2,"labelPadding":1,"title":"Impresiones","titleFontSize":2.2,"titleX":-2,"titleY":185}}}},
{"mark":{"type":"line","color":"#5a94f3","strokeWidth":0.5},"encoding":{"y":{"field":"c","type":"quantitative","scale":{"domain":[0,300],"range":[217,188]},"axis":{"zindex":1,"orient":"left","offset":-487,"values":[0,100,200,300],"labelFontSize":2.2,"labelPadding":1,"title":"Clics","titleFontSize":2.2,"titleX":-6,"titleY":185}}}}
],"resolve":{"scale":{"y":"independent"},"axis":{"y":"independent"}}},

{"data":{"values":[{"p":"G"}]},"mark":{"type":"rect","color":"#eef2fa"},"encoding":{"x":{"field":"p","type":"nominal","axis":null,"scale":{"type":"band","padding":0,"range":[606,704]}},"y":{"field":"p","type":"nominal","axis":null,"scale":{"type":"band","padding":0,"range":[107,181]}}}},
{"data":{"values":[{"p":"G"}]},"mark":{"type":"rect","color":"#ffffff","cornerRadiusBottomLeft":4,"cornerRadiusBottomRight":4},"encoding":{"x":{"field":"p","type":"nominal","axis":null,"scale":{"type":"band","padding":0,"range":[609,701]}},"y":{"field":"p","type":"nominal","axis":null,"scale":{"type":"band","padding":0,"range":[109,180]}}}},
{"data":{"name":"hG"},"layer":[
{"transform":[{"filter":"datum.m!='t'"}],"mark":{"type":"rect"},"encoding":{"x":{"field":"m","type":"nominal","axis":null,"scale":{"type":"band","padding":0,"domain":["c","i","t"],"range":[609,705]}},"y":{"field":"p","type":"nominal","axis":null,"scale":{"type":"band","padding":0,"range":[109,128]}},"fill":{"field":"m","type":"nominal","legend":null,"scale":{"domain":["c","i"],"range":["#4285f4","#5e35b1"]}}}},
{"mark":{"type":"text","font":"DejaVu Sans","fontSize":3.6,"align":"center","baseline":"middle"},"encoding":{"x":{"field":"m","type":"nominal","axis":null,"bandPosition":0.146,"scale":{"type":"band"}},"y":{"field":"p","type":"nominal","axis":null,"bandPosition":0.27,"scale":{"type":"band"}},"text":{"field":"b"},"color":{"field":"m","type":"nominal","legend":null}}},
{"mark":{"type":"text","font":"Roboto","fontSize":2.6,"align":"left","baseline":"middle"},"encoding":{"x":{"field":"m","type":"nominal","axis":null,"bandPosition":0.231,"scale":{"type":"band"}},"y":{"field":"p","type":"nominal","axis":null,"bandPosition":0.27,"scale":{"type":"band"}},"text":{"field":"label"},"color":{"field":"m","type":"nominal","legend":null}}},
{"mark":{"type":"text","font":"Roboto","fontSize":6.6,"fontWeight":300,"align":"left","baseline":"alphabetic"},"encoding":{"x":{"field":"m","type":"nominal","axis":null,"bandPosition":0.1,"scale":{"type":"band"}},"y":{"field":"p","type":"nominal","axis":null,"bandPosition":0.768,"scale":{"type":"band"}},"text":{"field":"value"},"color":{"field":"m","type":"nominal","legend":null}}}
]},
{"data":{"values":[{"g":15},{"g":30},{"g":45}]},"mark":{"type":"rule","color":"#eeeeee","strokeWidth":0.4},"encoding":{"x":{"datum":0,"type":"quantitative","axis":null,"scale":{"domain":[0,1],"range":[617,690]}},"x2":{"datum":1},"y":{"field":"g","type":"quantitative","axis":null,"scale":{"domain":[0,45],"range":[170,137]}}}},
{"data":{"name":"G"},"encoding":{"x":{"field":"d","type":"temporal","scale":{"type":"utc","domain":["2024-11-29","2025-01-25"],"range":[617,690]},"axis":{"zindex":1,"values":["2024-12-01","2024-12-17","2025-01-02","2025-01-18"],"format":"%-d/%-m/%y","orient":"bottom","offset":-780,"labelFontSize":2.4,"labelPadding":2.5,"domainWidth":0.3}}},"layer":[
{"mark":{"type":"line","color":"#8e6cc9","strokeWidth":0.6},"encoding":{"y":{"field":"i","type":"quantitative","scale":{"domain":[0,300],"range":[170,137]},"axis":{"zindex":1,"orient":"right","offset":-284,"values":[0,100,200,300],"labelFontSize":2.4,"labelPadding":1,"title":"Impresiones","titleFontSize":2.4,"titleX":-6,"titleY":134}}}},
{"mark":{"type":"line","color":"#7ba7f5","strokeWidth":0.6},"encoding":{"y":{"field":"c","type":"quantitative","scale":{"domain":[0,45],"range":[170,137]},"axis":{"zindex":1,"orient":"left","offset":-617,"values":[0,15,30,45],"labelFontSize":2.4,"labelPadding":1,"title":"Clics","titleFontSize":2.4,"titleX":-4,"titleY":134}}}}
],"resolve":{"scale":{"y":"independent"},"axis":{"y":"independent"}}},

{"data":{"values":[{"p":"H"}]},"mark":{"type":"rect","color":"#eef2fa"},"encoding":{"x":{"field":"p","type":"nominal","axis":null,"scale":{"type":"band","padding":0,"range":[488,616]}},"y":{"field":"p","type":"nominal","axis":null,"scale":{"type":"band","padding":0,"range":[789,890]}}}},
{"data":{"values":[{"p":"H"}]},"mark":{"type":"rect","color":"#ffffff","cornerRadiusBottomLeft":6,"cornerRadiusBottomRight":6},"encoding":{"x":{"field":"p","type":"nominal","axis":null,"scale":{"type":"band","padding":0,"range":[491,612]}},"y":{"field":"p","type":"nominal","axis":null,"scale":{"type":"band","padding":0,"range":[793,888]}}}},
{"data":{"name":"hH"},"layer":[
{"transform":[{"filter":"datum.m!='t'"}],"mark":{"type":"rect"},"encoding":{"x":{"field":"m","type":"nominal","axis":null,"scale":{"type":"band","padding":0,"domain":["c","i","t"],"range":[491,620]}},"y":{"field":"p","type":"nominal","axis":null,"scale":{"type":"band","padding":0,"range":[793,818]}},"fill":{"field":"m","type":"nominal","legend":null,"scale":{"domain":["c","i"],"range":["#5a94f3","#5e35b1"]}}}},
{"mark":{"type":"text","font":"DejaVu Sans","fontSize":4.9,"align":"center","baseline":"middle"},"encoding":{"x":{"field":"m","type":"nominal","axis":null,"bandPosition":0.146,"scale":{"type":"band"}},"y":{"field":"p","type":"nominal","axis":null,"bandPosition":0.27,"scale":{"type":"band"}},"text":{"field":"b"},"color":{"field":"m","type":"nominal","legend":null}}},
{"mark":{"type":"text","font":"Roboto","fontSize":3.4,"align":"left","baseline":"middle"},"encoding":{"x":{"field":"m","type":"nominal","axis":null,"bandPosition":0.231,"scale":{"type":"band"}},"y":{"field":"p","type":"nominal","axis":null,"bandPosition":0.27,"scale":{"type":"band"}},"text":{"field":"label"},"color":{"field":"m","type":"nominal","legend":null}}},
{"mark":{"type":"text","font":"Roboto","fontSize":8.9,"fontWeight":300,"align":"left","baseline":"alphabetic"},"encoding":{"x":{"field":"m","type":"nominal","axis":null,"bandPosition":0.1,"scale":{"type":"band"}},"y":{"field":"p","type":"nominal","axis":null,"bandPosition":0.768,"scale":{"type":"band"}},"text":{"field":"value"},"color":{"field":"m","type":"nominal","legend":null}}}
]},
{"data":{"values":[{"g":250},{"g":500},{"g":750}]},"mark":{"type":"rule","color":"#eeeeee","strokeWidth":0.5},"encoding":{"x":{"datum":0,"type":"quantitative","axis":null,"scale":{"domain":[0,1],"range":[505,596]}},"x2":{"datum":1},"y":{"field":"g","type":"quantitative","axis":null,"scale":{"domain":[0,750],"range":[875,831]}}}},
{"data":{"name":"H"},"encoding":{"x":{"field":"d","type":"temporal","scale":{"type":"utc","domain":["2024-11-30","2025-01-22"],"range":[505,596]},"axis":{"zindex":1,"values":["2024-12-01","2024-12-17","2025-01-02","2025-01-18"],"format":"%-d/%-m/%y","orient":"bottom","offset":-75,"labelFontSize":3.2,"labelPadding":3,"domainWidth":0.4}}},"layer":[
{"mark":{"type":"line","color":"#6a3ab5","strokeWidth":0.7},"encoding":{"y":{"field":"i","type":"quantitative","scale":{"domain":[0,22000],"range":[875,831]},"axis":{"zindex":1,"orient":"right","offset":-378,"values":[0,7333,14667,22000],"labelExpr":"['0','7,3 mil','15 mil','22 mil'][round(datum.index*3)]","labelFontSize":3.2,"labelPadding":1.5,"title":"Impresiones","titleFontSize":3.2,"titleX":-6,"titleY":826}}}},
{"mark":{"type":"line","color":"#5a94f3","strokeWidth":0.7},"encoding":{"y":{"field":"c","type":"quantitative","scale":{"domain":[0,750],"range":[875,831]},"axis":{"zindex":1,"orient":"left","offset":-505,"values":[0,250,500,750],"labelFontSize":3.2,"labelPadding":1.5,"title":"Clics","titleFontSize":3.2,"titleX":-9,"titleY":826}}}}
],"resolve":{"scale":{"y":"independent"},"axis":{"y":"independent"}}},

{"data":{"values":[{"p":"I"}]},"mark":{"type":"rect","color":"#eef2fa"},"encoding":{"x":{"field":"p","type":"nominal","axis":null,"scale":{"type":"band","padding":0,"range":[665,849]}},"y":{"field":"p","type":"nominal","axis":null,"scale":{"type":"band","padding":0,"range":[802,950]}}}},
{"data":{"values":[{"p":"I"}]},"mark":{"type":"rect","color":"#ffffff","cornerRadiusBottomLeft":8,"cornerRadiusBottomRight":8},"encoding":{"x":{"field":"p","type":"nominal","axis":null,"scale":{"type":"band","padding":0,"range":[671,844]}},"y":{"field":"p","type":"nominal","axis":null,"scale":{"type":"band","padding":0,"range":[808,945]}}}},
{"data":{"name":"hI"},"layer":[
{"transform":[{"filter":"datum.m!='t'"}],"mark":{"type":"rect"},"encoding":{"x":{"field":"m","type":"nominal","axis":null,"scale":{"type":"band","padding":0,"domain":["c","i","t"],"range":[671,852.5]}},"y":{"field":"p","type":"nominal","axis":null,"scale":{"type":"band","padding":0,"range":[808,844]}},"fill":{"field":"m","type":"nominal","legend":null,"scale":{"domain":["c","i"],"range":["#4285f4","#5e35b1"]}}}},
{"mark":{"type":"text","font":"DejaVu Sans","fontSize":6.8,"align":"center","baseline":"middle"},"encoding":{"x":{"field":"m","type":"nominal","axis":null,"bandPosition":0.146,"scale":{"type":"band"}},"y":{"field":"p","type":"nominal","axis":null,"bandPosition":0.27,"scale":{"type":"band"}},"text":{"field":"b"},"color":{"field":"m","type":"nominal","legend":null}}},
{"mark":{"type":"text","font":"Roboto","fontSize":4.8,"align":"left","baseline":"middle"},"encoding":{"x":{"field":"m","type":"nominal","axis":null,"bandPosition":0.231,"scale":{"type":"band"}},"y":{"field":"p","type":"nominal","axis":null,"bandPosition":0.27,"scale":{"type":"band"}},"text":{"field":"label"},"color":{"field":"m","type":"nominal","legend":null}}},
{"mark":{"type":"text","font":"Roboto","fontSize":12.5,"fontWeight":300,"align":"left","baseline":"alphabetic"},"encoding":{"x":{"field":"m","type":"nominal","axis":null,"bandPosition":0.1,"scale":{"type":"band"}},"y":{"field":"p","type":"nominal","axis":null,"bandPosition":0.768,"scale":{"type":"band"}},"text":{"field":"value"},"color":{"field":"m","type":"nominal","legend":null}}},
{"transform":[{"filter":"datum.m!='t'"}],"mark":{"type":"point","shape":"circle","filled":false,"size":26,"strokeWidth":0.6,"color":"#ffffff","opacity":0.4},"encoding":{"x":{"field":"m","type":"nominal","axis":null,"bandPosition":0.868,"scale":{"type":"band"}},"y":{"field":"p","type":"nominal","axis":null,"bandPosition":0.832,"scale":{"type":"band"}}}}
]},
{"data":{"values":[{"g":0}]},"mark":{"type":"rule","color":"#e6e6e6","strokeWidth":0.6},"encoding":{"x":{"datum":0,"type":"quantitative","axis":null,"scale":{"domain":[0,1],"range":[792,844]}},"x2":{"datum":1},"y":{"field":"g","type":"quantitative","axis":null,"scale":{"domain":[0,1],"range":[843.7,843.4]}}}},
{"data":{"values":[{"g":400},{"g":800},{"g":1200}]},"mark":{"type":"rule","color":"#eeeeee","strokeWidth":0.6},"encoding":{"x":{"datum":0,"type":"quantitative","axis":null,"scale":{"domain":[0,1],"range":[695,820]}},"x2":{"datum":1},"y":{"field":"g","type":"quantitative","axis":null,"scale":{"domain":[0,1200],"range":[925,862]}}}},
{"data":{"name":"I"},"encoding":{"x":{"field":"d","type":"temporal","scale":{"type":"utc","domain":["2024-11-29","2025-01-22"],"range":[695,820]},"axis":{"zindex":1,"values":["2024-12-01","2024-12-18","2025-01-04"],"format":"%-d/%-m/%y","orient":"bottom","offset":-25,"labelFontSize":4.6,"labelPadding":5,"domainWidth":0.5}}},"layer":[
{"mark":{"type":"line","color":"#6a3ab5","strokeWidth":0.9},"encoding":{"y":{"field":"i","type":"quantitative","scale":{"domain":[0,45000],"range":[925,862]},"axis":{"zindex":1,"orient":"right","offset":-154,"values":[0,15000,30000,45000],"labelExpr":"['0','15 mil','30 mil','45 mil'][round(datum.index*3)]","labelFontSize":4.6,"labelPadding":2,"title":"Impresiones","titleFontSize":4.6,"titleX":-8,"titleY":856}}}},
{"mark":{"type":"line","color":"#5a94f3","strokeWidth":0.9},"encoding":{"y":{"field":"c","type":"quantitative","scale":{"domain":[0,1200],"range":[925,862]},"axis":{"zindex":1,"orient":"left","offset":-695,"values":[0,400,800,1200],"labelExpr":"datum.value==1200?'1,2 mil':''+datum.value","labelFontSize":4.6,"labelPadding":2,"title":"Clics","titleFontSize":4.6,"titleX":-17,"titleY":856}}}}
],"resolve":{"scale":{"y":"independent"},"axis":{"y":"independent"}}}
],
"resolve":{"scale":{"x":"independent","y":"independent","fill":"independent"},"axis":{"x":"independent","y":"independent"}}}
